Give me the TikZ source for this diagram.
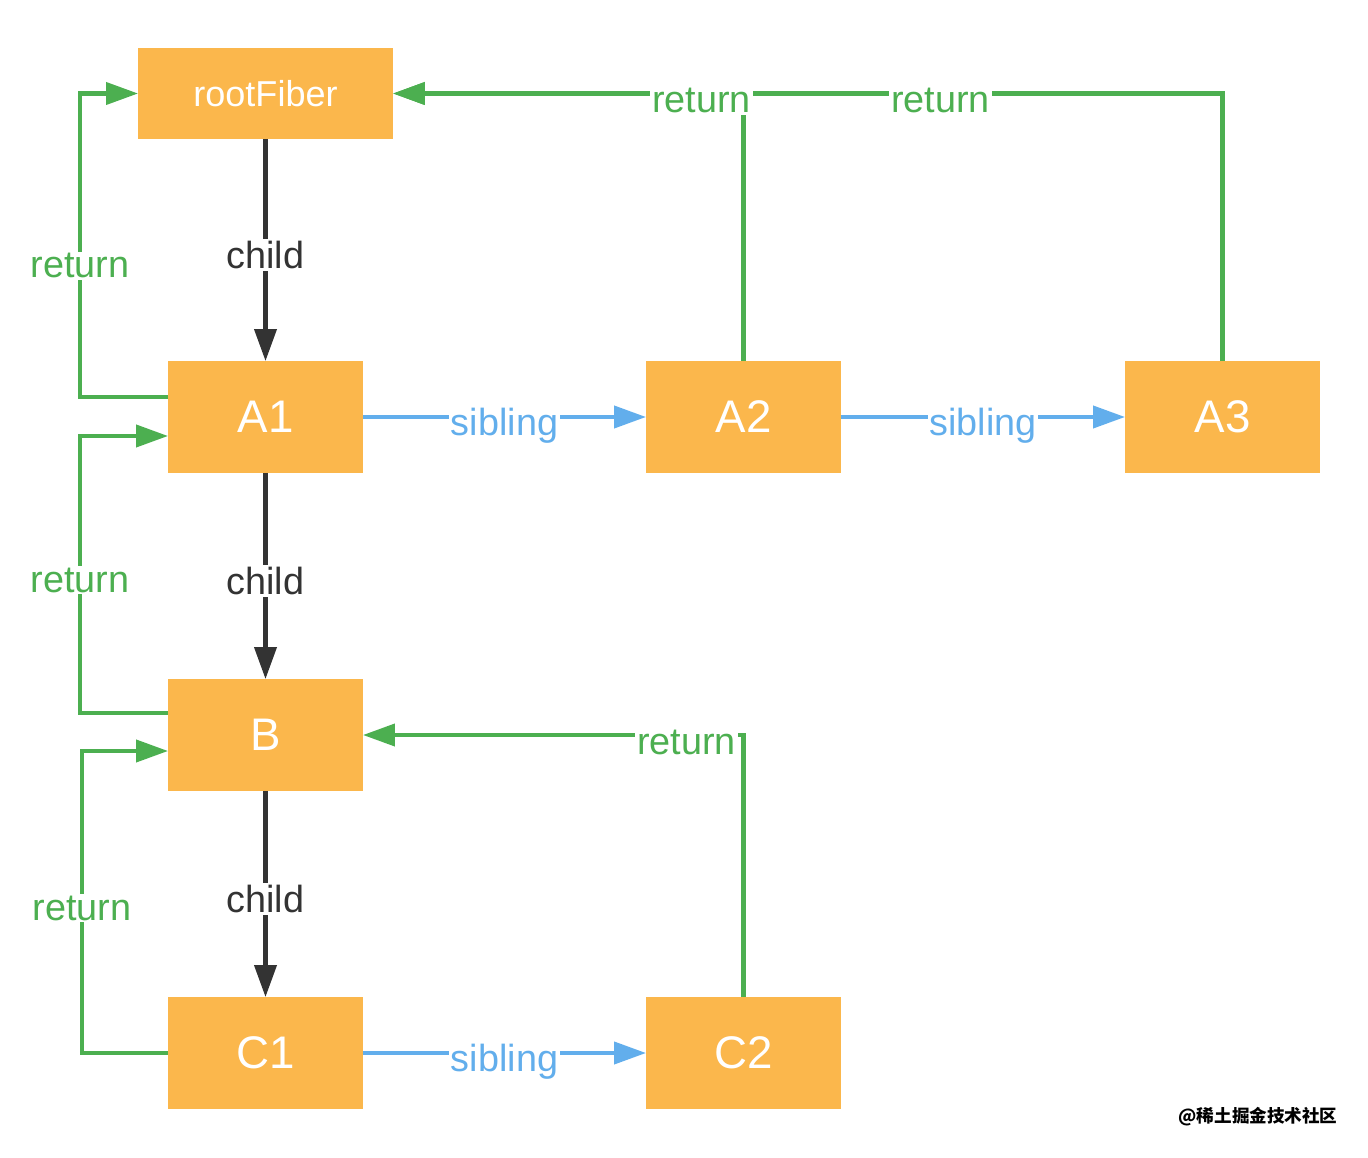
\documentclass[tikz,border=0pt]{standalone}
\usepackage{fontspec}
\setmainfont{Liberation Sans}
\newfontfamily\cjkfont{Noto Sans CJK SC}
\usetikzlibrary{arrows.meta}
\definecolor{boxorange}{RGB}{251,183,76}
\definecolor{retgreen}{RGB}{76,175,80}
\definecolor{sibblue}{RGB}{98,174,236}
\definecolor{kiddark}{RGB}{51,51,51}

\begin{document}
\begin{tikzpicture} [x=0.02cm, y=-0.02cm,
    >={Triangle[length=0.64cm, width=0.44cm]},
    line width=2.3pt,
    box/.style={rectangle, fill=boxorange, text=white, inner sep=0pt, outer sep=0pt,
      minimum width=3.9cm, minimum height=2.24cm, font=\fontsize{26}{30}\selectfont},
    lab/.style={fill=white, inner sep=1pt, font=\fontsize{21.5}{24}\selectfont},
    ret/.style={->, draw=retgreen, every node/.style={lab, text=retgreen}},
    sib/.style={->, draw=sibblue, every node/.style={lab, text=sibblue}},
    kid/.style={->, draw=kiddark, every node/.style={lab, text=kiddark}}]
  \useasboundingbox (0,0) rectangle (1368,1158);

  \node[box, minimum width=5.1cm, minimum height=1.82cm,
    font=\fontsize{20.5}{24}\selectfont] (root) at (265.5,93.5) {rootFiber};
  \node[box] (A1) at (265.5,417)  {A1};
  \node[box] (A2) at (743.5,417)  {A2};
  \node[box] (A3) at (1222.5,417) {A3};
  \node[box] (B)  at (265.5,735)  {B};
  \node[box] (C1) at (265.5,1053) {C1};
  \node[box] (C2) at (743.5,1053) {C2};

  % child
  \draw[kid] (root) -- (A1) node[midway, yshift=-0.1cm] (c0) {child};
  \draw[kid] (A1) -- (B) node[midway, yshift=-0.1cm] (c1) {child};
  \draw[kid] (B) -- (C1) node[midway, yshift=-0.1cm] (c2) {child};

  % sibling
  \draw[sib] (A1) -- (A2) node[midway, yshift=-0.18cm] (s1) {sibling};
  \draw[sib] (A2) -- (A3) node[midway, yshift=-0.18cm] (s2) {sibling};
  \draw[sib] (C1) -- (C2) node[midway, yshift=-0.18cm] (s3) {sibling};

  % return
  \draw[ret] ([yshift=0.4cm]A1.west) -- ++(-1.76cm,0) |- (root.west)
    node[pos=0.216] (r1) {return};
  \draw[ret] ([yshift=0.44cm]B.west) -- ++(-1.76cm,0) |- ([yshift=-0.38cm]A1.west)
    node[pos=0.24] (r2) {return};
  \draw[ret] (C1.west) -- ++(-1.72cm,0) |- ([yshift=-0.32cm]B.west)
    node[pos=0.24] (r3) {return};
  \draw[ret] (A3.north) |- (root.east) node[pos=0.67, yshift=-0.14cm] (r5) {return};
  \draw[ret] (A2.north) |- (root.east) node[pos=0.56, yshift=-0.14cm] (r4) {return};
  \draw[ret] (C2.north) |- (B.east) node[pos=0.575, yshift=-0.14cm] (r6) {return};

  \node[inner sep=0pt, font=\cjkfont\bfseries\fontsize{10}{12}\selectfont] (mark)
    at (1258,1117) {@稀土掘金技术社区};
\end{tikzpicture}
\end{document}
